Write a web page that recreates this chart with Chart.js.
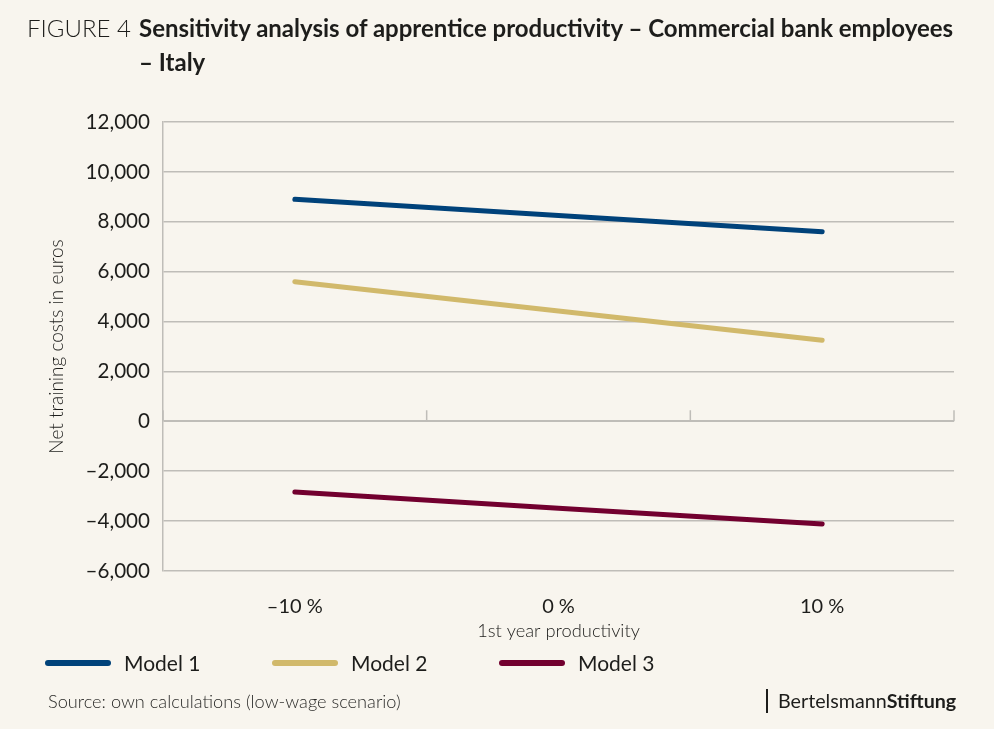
<!DOCTYPE html>
<html>
<head>
<meta charset="utf-8">
<script src="https://cdn.jsdelivr.net/npm/chart.js@4"></script>
<style>
  html, body { margin: 0; padding: 0; }
  body { width: 994px; height: 729px; background: #f8f5ee; position: relative; overflow: hidden; font-family: Lato, "Open Sans", sans-serif; color: #1d1d1b; }
  #chart { position: absolute; left: 0; top: 0; }
  .title { position: absolute; left: 27px; top: 11px; font-size: 24px; line-height: 34px; }
  .title .fig { font-weight: 300; position: absolute; left: 0; top: 0; white-space: nowrap; }
  .title .main { font-weight: 700; position: absolute; left: 112px; top: 0; white-space: nowrap; }
  .legend { position: absolute; top: 650px; left: 0; height: 26px; }
  .legend .item { position: absolute; top: 0; white-space: nowrap; font-size: 21px; line-height: 26px; }
  .legend .swatch { position: absolute; top: 10px; height: 5.5px; width: 66px; border-radius: 3px; }
  .source { position: absolute; left: 48px; top: 690px; font-size: 18.2px; font-weight: 300; color: #2a2a28; }
  .logo { position: absolute; left: 766px; top: 689px; height: 24px; border-left: 2px solid #1d1d1b; padding-left: 10px; font-size: 19.7px; line-height: 24px; }
  .logo b { font-weight: 700; }
</style>
</head>
<body>
<canvas id="chart" width="994" height="729"></canvas>
<div class="title">
  <span class="fig">FIGURE 4</span>
  <span class="main">Sensitivity analysis of apprentice productivity – Commercial bank employees<br>– Italy</span>
</div>
<div class="legend" id="legend"></div>
<div class="source">Source: own calculations (low-wage scenario)</div>
<div class="logo">Bertelsmann<b>Stiftung</b></div>
<script>
const categories = ['–10 %', '0 %', '10 %'];
const seriesNames = ['Model 1', 'Model 2', 'Model 3'];
const model1 = [8900, 8250, 7600];
const model2 = [5600, 4420, 3250];
const model3 = [-2830, -3480, -4120];
const seriesColors = ['#00427a', '#d1b96b', '#72002f'];
const yMin = -6000, yMax = 12000, yStep = 2000;

const gridColor = '#bfbdb8';
const textColor = '#1d1d1b';

// small tick marks standing on the zero line at the category boundaries
const zeroTicks = {
    id: 'zeroTicks',
    afterDatasetsDraw(chart) {
        const x = chart.scales.x, y = chart.scales.y;
        const ctx = chart.ctx;
        const half = (x.getPixelForValue(1) - x.getPixelForValue(0)) / 2;
        const y0 = y.getPixelForValue(0);
        ctx.save();
        ctx.strokeStyle = gridColor;
        ctx.lineWidth = 1.5;
        ctx.beginPath();
        const edges = [x.getPixelForValue(0) - half];
        categories.forEach((c, i) => edges.push(x.getPixelForValue(i) + half));
        edges.forEach(px => {
            ctx.moveTo(px, y0);
            ctx.lineTo(px, y0 - 11);
        });
        ctx.stroke();
        ctx.restore();
    }
};

const datasets = [model1, model2, model3].map((d, i) => ({
    label: seriesNames[i],
    data: d,
    borderColor: seriesColors[i],
    backgroundColor: seriesColors[i],
    borderWidth: 5,
    borderCapStyle: 'round',
    pointRadius: 0,
    tension: 0,
    fill: false
}));

new Chart(document.getElementById('chart'), {
    type: 'line',
    data: { labels: categories, datasets: datasets },
    plugins: [zeroTicks],
    options: {
        responsive: false,
        animation: false,
        layout: { padding: { left: 38, right: 40, top: 122, bottom: 78 } },
        plugins: { legend: { display: false }, tooltip: { enabled: false } },
        scales: {
            x: {
                offset: true,
                grid: { display: false },
                border: { display: false },
                ticks: { color: textColor, font: { family: 'Lato', size: 20 }, padding: 16, maxRotation: 0 },
                title: { display: true, text: '1st year productivity', color: textColor, font: { family: 'Lato', size: 18.3, weight: 300 }, padding: { top: 0, bottom: 9 } },
                afterFit: s => { s.height = 80; }
            },
            y: {
                min: yMin,
                max: yMax,
                grid: {
                    color: gridColor,
                    lineWidth: c => c.tick && c.tick.value === 0 ? 2 : 1.5,
                    drawTicks: false
                },
                border: { display: true, color: gridColor, width: 1.5 },
                ticks: {
                    stepSize: yStep,
                    color: textColor,
                    padding: 13,
                    font: { family: 'Lato', size: 20.6 },
                    callback: v => (v < 0 ? '–' : '') + Math.abs(v).toLocaleString('en-US')
                },
                title: { display: true, text: 'Net training costs in euros', color: textColor, font: { family: 'Lato', size: 19, weight: 300 }, padding: { top: 7.5, bottom: 0 } },
                afterFit: s => { s.width = 125; }
            }
        }
    }
});

// legend built from the same series
const legendEl = document.getElementById('legend');
const legendX = [45, 272, 499];
seriesNames.forEach((name, i) => {
    const item = document.createElement('div');
    item.className = 'item';
    item.style.left = legendX[i] + 'px';
    item.innerHTML = `<span class="swatch" style="left:0;background:${seriesColors[i]}"></span><span style="margin-left:79px">${name}</span>`;
    legendEl.appendChild(item);
});
</script>
</body>
</html>
